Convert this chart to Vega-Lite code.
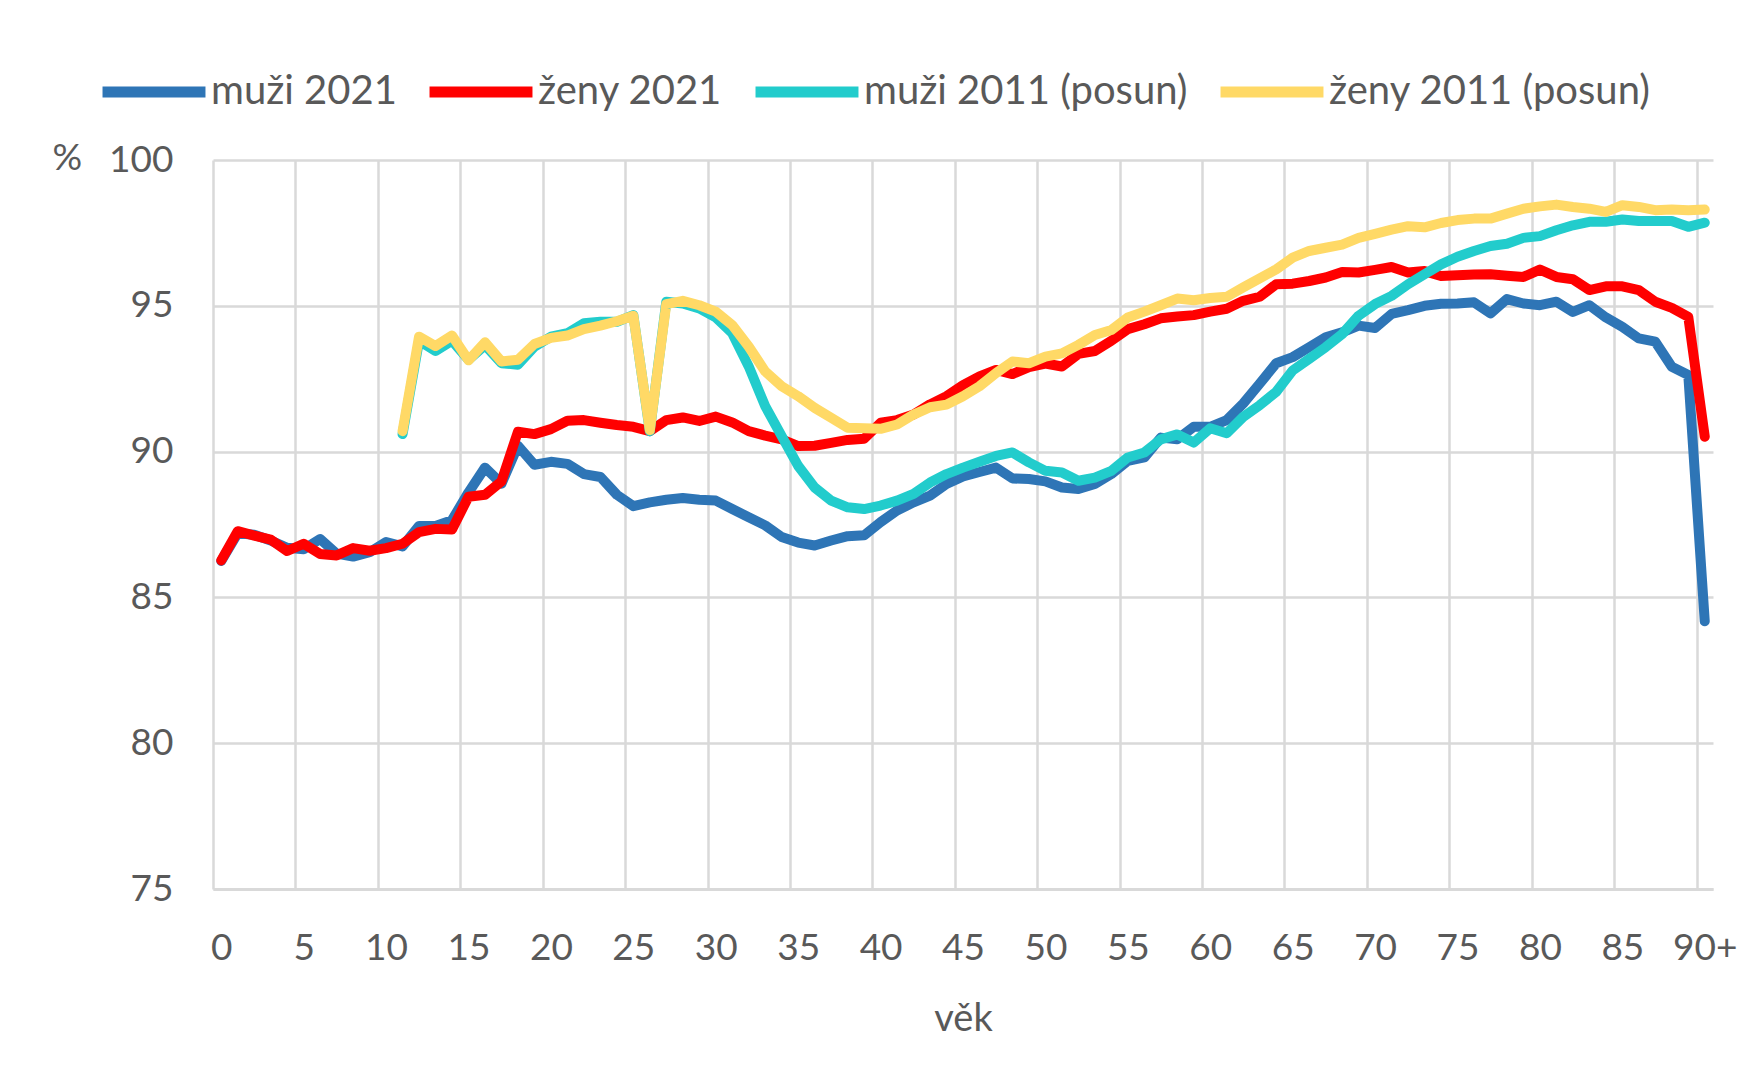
{
  "$schema": "https://vega.github.io/schema/vega-lite/v6.json",
  "width": 1500,
  "height": 729,
  "autosize": {"type": "none"},
  "padding": {"left": 213, "top": 160, "right": 43, "bottom": 187},
  "background": "white",
  "config": {"view": {"stroke": null}, "font": "Lato"},
  "data": {"values": [
    {"age": 0, "muži 2021": 86.25, "ženy 2021": 86.27},
    {"age": 1, "muži 2021": 87.2, "ženy 2021": 87.27},
    {"age": 2, "muži 2021": 87.15, "ženy 2021": 87.12},
    {"age": 3, "muži 2021": 86.95, "ženy 2021": 86.98},
    {"age": 4, "muži 2021": 86.7, "ženy 2021": 86.59},
    {"age": 5, "muži 2021": 86.65, "ženy 2021": 86.84},
    {"age": 6, "muži 2021": 87.0, "ženy 2021": 86.49},
    {"age": 7, "muži 2021": 86.5, "ženy 2021": 86.44},
    {"age": 8, "muži 2021": 86.4, "ženy 2021": 86.69},
    {"age": 9, "muži 2021": 86.55, "ženy 2021": 86.6},
    {"age": 10, "muži 2021": 86.9, "ženy 2021": 86.69},
    {"age": 11, "muži 2021": 86.75, "ženy 2021": 86.84, "muži 2011 (posun)": 90.6, "ženy 2011 (posun)": 90.7},
    {"age": 12, "muži 2021": 87.45, "ženy 2021": 87.24, "muži 2011 (posun)": 93.8, "ženy 2011 (posun)": 93.94},
    {"age": 13, "muži 2021": 87.45, "ženy 2021": 87.35, "muži 2011 (posun)": 93.45, "ženy 2011 (posun)": 93.62},
    {"age": 14, "muži 2021": 87.65, "ženy 2021": 87.33, "muži 2011 (posun)": 93.8, "ženy 2011 (posun)": 93.98},
    {"age": 15, "muži 2021": 88.6, "ženy 2021": 88.45, "muži 2011 (posun)": 93.15, "ženy 2011 (posun)": 93.13},
    {"age": 16, "muži 2021": 89.45, "ženy 2021": 88.52, "muži 2011 (posun)": 93.65, "ženy 2011 (posun)": 93.75},
    {"age": 17, "muži 2021": 88.9, "ženy 2021": 88.98, "muži 2011 (posun)": 93.03, "ženy 2011 (posun)": 93.09},
    {"age": 18, "muži 2021": 90.2, "ženy 2021": 90.68, "muži 2011 (posun)": 92.98, "ženy 2011 (posun)": 93.15},
    {"age": 19, "muži 2021": 89.55, "ženy 2021": 90.6, "muži 2011 (posun)": 93.6, "ženy 2011 (posun)": 93.69},
    {"age": 20, "muži 2021": 89.65, "ženy 2021": 90.77, "muži 2011 (posun)": 93.94, "ženy 2011 (posun)": 93.9},
    {"age": 21, "muži 2021": 89.58, "ženy 2021": 91.06, "muži 2011 (posun)": 94.06, "ženy 2011 (posun)": 93.98},
    {"age": 22, "muži 2021": 89.23, "ženy 2021": 91.08, "muži 2011 (posun)": 94.4, "ženy 2011 (posun)": 94.2},
    {"age": 23, "muži 2021": 89.13, "ženy 2021": 90.99, "muži 2011 (posun)": 94.45, "ženy 2011 (posun)": 94.32},
    {"age": 24, "muži 2021": 88.52, "ženy 2021": 90.91, "muži 2011 (posun)": 94.45, "ženy 2011 (posun)": 94.47},
    {"age": 25, "muži 2021": 88.13, "ženy 2021": 90.85, "muži 2011 (posun)": 94.68, "ženy 2011 (posun)": 94.66},
    {"age": 26, "muži 2021": 88.26, "ženy 2021": 90.7, "muži 2011 (posun)": 90.7, "ženy 2011 (posun)": 90.74},
    {"age": 27, "muži 2021": 88.35, "ženy 2021": 91.08, "muži 2011 (posun)": 95.14, "ženy 2011 (posun)": 95.06},
    {"age": 28, "muži 2021": 88.41, "ženy 2021": 91.17, "muži 2011 (posun)": 95.08, "ženy 2011 (posun)": 95.17},
    {"age": 29, "muži 2021": 88.35, "ženy 2021": 91.05, "muži 2011 (posun)": 94.91, "ženy 2011 (posun)": 95.02},
    {"age": 30, "muži 2021": 88.32, "ženy 2021": 91.2, "muži 2011 (posun)": 94.6, "ženy 2011 (posun)": 94.8},
    {"age": 31, "muži 2021": 88.03, "ženy 2021": 91.0, "muži 2011 (posun)": 94.06, "ženy 2011 (posun)": 94.34},
    {"age": 32, "muži 2021": 87.75, "ženy 2021": 90.7, "muži 2011 (posun)": 92.92, "ženy 2011 (posun)": 93.6},
    {"age": 33, "muži 2021": 87.47, "ženy 2021": 90.55, "muži 2011 (posun)": 91.56, "ženy 2011 (posun)": 92.75},
    {"age": 34, "muži 2021": 87.07, "ženy 2021": 90.42, "muži 2011 (posun)": 90.53, "ženy 2011 (posun)": 92.24},
    {"age": 35, "muži 2021": 86.88, "ženy 2021": 90.19, "muži 2011 (posun)": 89.51, "ženy 2011 (posun)": 91.9},
    {"age": 36, "muži 2021": 86.78, "ženy 2021": 90.2, "muži 2011 (posun)": 88.77, "ženy 2011 (posun)": 91.5},
    {"age": 37, "muži 2021": 86.95, "ženy 2021": 90.3, "muži 2011 (posun)": 88.32, "ženy 2011 (posun)": 91.16},
    {"age": 38, "muži 2021": 87.1, "ženy 2021": 90.4, "muži 2011 (posun)": 88.09, "ženy 2011 (posun)": 90.82},
    {"age": 39, "muži 2021": 87.13, "ženy 2021": 90.44, "muži 2011 (posun)": 88.03, "ženy 2011 (posun)": 90.8},
    {"age": 40, "muži 2021": 87.58, "ženy 2021": 90.99, "muži 2011 (posun)": 88.15, "ženy 2011 (posun)": 90.78},
    {"age": 41, "muži 2021": 87.98, "ženy 2021": 91.08, "muži 2011 (posun)": 88.32, "ženy 2011 (posun)": 90.93},
    {"age": 42, "muži 2021": 88.26, "ženy 2021": 91.27, "muži 2011 (posun)": 88.55, "ženy 2011 (posun)": 91.27},
    {"age": 43, "muži 2021": 88.49, "ženy 2021": 91.62, "muži 2011 (posun)": 88.94, "ženy 2011 (posun)": 91.52},
    {"age": 44, "muži 2021": 88.89, "ženy 2021": 91.9, "muži 2011 (posun)": 89.23, "ženy 2011 (posun)": 91.61},
    {"age": 45, "muži 2021": 89.15, "ženy 2021": 92.28, "muži 2011 (posun)": 89.45, "ženy 2011 (posun)": 91.9},
    {"age": 46, "muži 2021": 89.3, "ženy 2021": 92.58, "muži 2011 (posun)": 89.65, "ženy 2011 (posun)": 92.24},
    {"age": 47, "muži 2021": 89.45, "ženy 2021": 92.8, "muži 2011 (posun)": 89.85, "ženy 2011 (posun)": 92.69},
    {"age": 48, "muži 2021": 89.08, "ženy 2021": 92.66, "muži 2011 (posun)": 89.97, "ženy 2011 (posun)": 93.09},
    {"age": 49, "muži 2021": 89.06, "ženy 2021": 92.9, "muži 2011 (posun)": 89.63, "ženy 2011 (posun)": 93.03},
    {"age": 50, "muži 2021": 88.98, "ženy 2021": 93.02, "muži 2011 (posun)": 89.34, "ženy 2011 (posun)": 93.26},
    {"age": 51, "muži 2021": 88.77, "ženy 2021": 92.92, "muži 2011 (posun)": 89.28, "ženy 2011 (posun)": 93.37},
    {"age": 52, "muži 2021": 88.72, "ženy 2021": 93.35, "muži 2011 (posun)": 89.0, "ženy 2011 (posun)": 93.66},
    {"age": 53, "muži 2021": 88.89, "ženy 2021": 93.45, "muži 2011 (posun)": 89.11, "ženy 2011 (posun)": 94.0},
    {"age": 54, "muži 2021": 89.23, "ženy 2021": 93.8, "muži 2011 (posun)": 89.34, "ženy 2011 (posun)": 94.17},
    {"age": 55, "muži 2021": 89.68, "ženy 2021": 94.2, "muži 2011 (posun)": 89.8, "ženy 2011 (posun)": 94.6},
    {"age": 56, "muži 2021": 89.8, "ženy 2021": 94.37, "muži 2011 (posun)": 89.97, "ženy 2011 (posun)": 94.8},
    {"age": 57, "muži 2021": 90.48, "ženy 2021": 94.57, "muži 2011 (posun)": 90.42, "ženy 2011 (posun)": 95.02},
    {"age": 58, "muži 2021": 90.42, "ženy 2021": 94.63, "muži 2011 (posun)": 90.59, "ženy 2011 (posun)": 95.25},
    {"age": 59, "muži 2021": 90.85, "ženy 2021": 94.68, "muži 2011 (posun)": 90.31, "ženy 2011 (posun)": 95.19},
    {"age": 60, "muži 2021": 90.85, "ženy 2021": 94.8, "muži 2011 (posun)": 90.8, "ženy 2011 (posun)": 95.27},
    {"age": 61, "muži 2021": 91.08, "ženy 2021": 94.9, "muži 2011 (posun)": 90.63, "ženy 2011 (posun)": 95.31},
    {"age": 62, "muži 2021": 91.65, "ženy 2021": 95.17, "muži 2011 (posun)": 91.19, "ženy 2011 (posun)": 95.63},
    {"age": 63, "muži 2021": 92.33, "ženy 2021": 95.31, "muži 2011 (posun)": 91.59, "ženy 2011 (posun)": 95.94},
    {"age": 64, "muži 2021": 93.03, "ženy 2021": 95.74, "muži 2011 (posun)": 92.05, "ženy 2011 (posun)": 96.25},
    {"age": 65, "muži 2021": 93.24, "ženy 2021": 95.76, "muži 2011 (posun)": 92.78, "ženy 2011 (posun)": 96.65},
    {"age": 66, "muži 2021": 93.58, "ženy 2021": 95.85, "muži 2011 (posun)": 93.18, "ženy 2011 (posun)": 96.88},
    {"age": 67, "muži 2021": 93.92, "ženy 2021": 95.97, "muži 2011 (posun)": 93.58, "ženy 2011 (posun)": 96.99},
    {"age": 68, "muži 2021": 94.09, "ženy 2021": 96.16, "muži 2011 (posun)": 94.03, "ženy 2011 (posun)": 97.1},
    {"age": 69, "muži 2021": 94.32, "ženy 2021": 96.14, "muži 2011 (posun)": 94.66, "ženy 2011 (posun)": 97.33},
    {"age": 70, "muži 2021": 94.24, "ženy 2021": 96.23, "muži 2011 (posun)": 95.06, "ženy 2011 (posun)": 97.47},
    {"age": 71, "muži 2021": 94.72, "ženy 2021": 96.33, "muži 2011 (posun)": 95.34, "ženy 2011 (posun)": 97.61},
    {"age": 72, "muži 2021": 94.85, "ženy 2021": 96.14, "muži 2011 (posun)": 95.74, "ženy 2011 (posun)": 97.73},
    {"age": 73, "muži 2021": 95.0, "ženy 2021": 96.19, "muži 2011 (posun)": 96.08, "ženy 2011 (posun)": 97.69},
    {"age": 74, "muži 2021": 95.07, "ženy 2021": 96.02, "muži 2011 (posun)": 96.42, "ženy 2011 (posun)": 97.84},
    {"age": 75, "muži 2021": 95.08, "ženy 2021": 96.05, "muži 2011 (posun)": 96.68, "ženy 2011 (posun)": 97.94},
    {"age": 76, "muži 2021": 95.12, "ženy 2021": 96.07, "muži 2011 (posun)": 96.88, "ženy 2011 (posun)": 97.99},
    {"age": 77, "muži 2021": 94.74, "ženy 2021": 96.08, "muži 2011 (posun)": 97.05, "ženy 2011 (posun)": 97.99},
    {"age": 78, "muži 2021": 95.23, "ženy 2021": 96.03, "muži 2011 (posun)": 97.13, "ženy 2011 (posun)": 98.16},
    {"age": 79, "muži 2021": 95.08, "ženy 2021": 95.99, "muži 2011 (posun)": 97.33, "ženy 2011 (posun)": 98.33},
    {"age": 80, "muži 2021": 95.02, "ženy 2021": 96.24, "muži 2011 (posun)": 97.39, "ženy 2011 (posun)": 98.41},
    {"age": 81, "muži 2021": 95.14, "ženy 2021": 95.99, "muži 2011 (posun)": 97.59, "ženy 2011 (posun)": 98.47},
    {"age": 82, "muži 2021": 94.79, "ženy 2021": 95.91, "muži 2011 (posun)": 97.76, "ženy 2011 (posun)": 98.39},
    {"age": 83, "muži 2021": 95.02, "ženy 2021": 95.54, "muži 2011 (posun)": 97.88, "ženy 2011 (posun)": 98.33},
    {"age": 84, "muži 2021": 94.6, "ženy 2021": 95.67, "muži 2011 (posun)": 97.88, "ženy 2011 (posun)": 98.22},
    {"age": 85, "muži 2021": 94.28, "ženy 2021": 95.67, "muži 2011 (posun)": 97.96, "ženy 2011 (posun)": 98.45},
    {"age": 86, "muži 2021": 93.88, "ženy 2021": 95.54, "muži 2011 (posun)": 97.91, "ženy 2011 (posun)": 98.39},
    {"age": 87, "muži 2021": 93.77, "ženy 2021": 95.14, "muži 2011 (posun)": 97.91, "ženy 2011 (posun)": 98.28},
    {"age": 88, "muži 2021": 92.91, "ženy 2021": 94.93, "muži 2011 (posun)": 97.91, "ženy 2011 (posun)": 98.3},
    {"age": 89, "muži 2021": 92.63, "ženy 2021": 94.62, "muži 2011 (posun)": 97.71, "ženy 2011 (posun)": 98.28},
    {"age": 90, "muži 2021": 84.18, "ženy 2021": 90.51, "muži 2011 (posun)": 97.85, "ženy 2011 (posun)": 98.3}
  ]},
  "transform": [
    {"fold": ["muži 2021", "ženy 2021", "muži 2011 (posun)", "ženy 2011 (posun)"], "as": ["série", "podíl"]}
  ],
  "mark": {"type": "line", "strokeWidth": 10, "strokeCap": "round", "strokeJoin": "round"},
  "encoding": {
    "x": {
      "field": "age", "type": "quantitative",
      "scale": {"domain": [-0.5, 90.5], "nice": false, "zero": false},
      "axis": {
        "values": [-0.5, 4.5, 9.5, 14.5, 19.5, 24.5, 29.5, 34.5, 39.5, 44.5, 49.5, 54.5, 59.5, 64.5, 69.5, 74.5, 79.5, 84.5, 89.5],
        "labelExpr": "datum.value > 89 ? '90+' : format(datum.value + 0.5, 'd')",
        "labelOffset": 8.24, "labelFlush": false, "labelOverlap": false,
        "labelFontSize": 37, "labelColor": "#595959", "labelPadding": 41,
        "ticks": false, "domain": true, "domainColor": "#D9D9D9", "domainWidth": 3,
        "grid": true, "gridColor": "#D9D9D9", "gridWidth": 2.5,
        "title": "věk", "titleFontSize": 38, "titleFontWeight": "normal", "titleColor": "#595959", "titlePadding": 34
      }
    },
    "y": {
      "field": "podíl", "type": "quantitative",
      "scale": {"domain": [75, 100], "nice": false, "zero": false},
      "axis": {
        "values": [75, 80, 85, 90, 95, 100],
        "labelFontSize": 37, "labelColor": "#595959", "labelPadding": 40,
        "ticks": false, "domain": false,
        "grid": true, "gridColor": "#D9D9D9", "gridWidth": 2.5,
        "title": "%", "titleAngle": 0, "titleAlign": "left", "titleBaseline": "middle",
        "titleX": -161, "titleY": -2, "titleFontSize": 37, "titleFontWeight": "normal", "titleColor": "#595959"
      }
    },
    "color": {
      "field": "série", "type": "nominal",
      "scale": {
        "domain": ["muži 2021", "ženy 2021", "muži 2011 (posun)", "ženy 2011 (posun)"],
        "range": ["#2E75B6", "#FF0000", "#22CCCC", "#FFD966"]
      },
      "legend": {
        "orient": "none", "legendX": -116, "legendY": -125, "direction": "horizontal",
        "title": null, "symbolType": "stroke", "symbolSize": 10600, "symbolStrokeWidth": 11,
        "labelFontSize": 40, "labelColor": "#595959", "labelOffset": 0, "labelLimit": 500,
        "columnPadding": 10
      }
    }
  }
}
